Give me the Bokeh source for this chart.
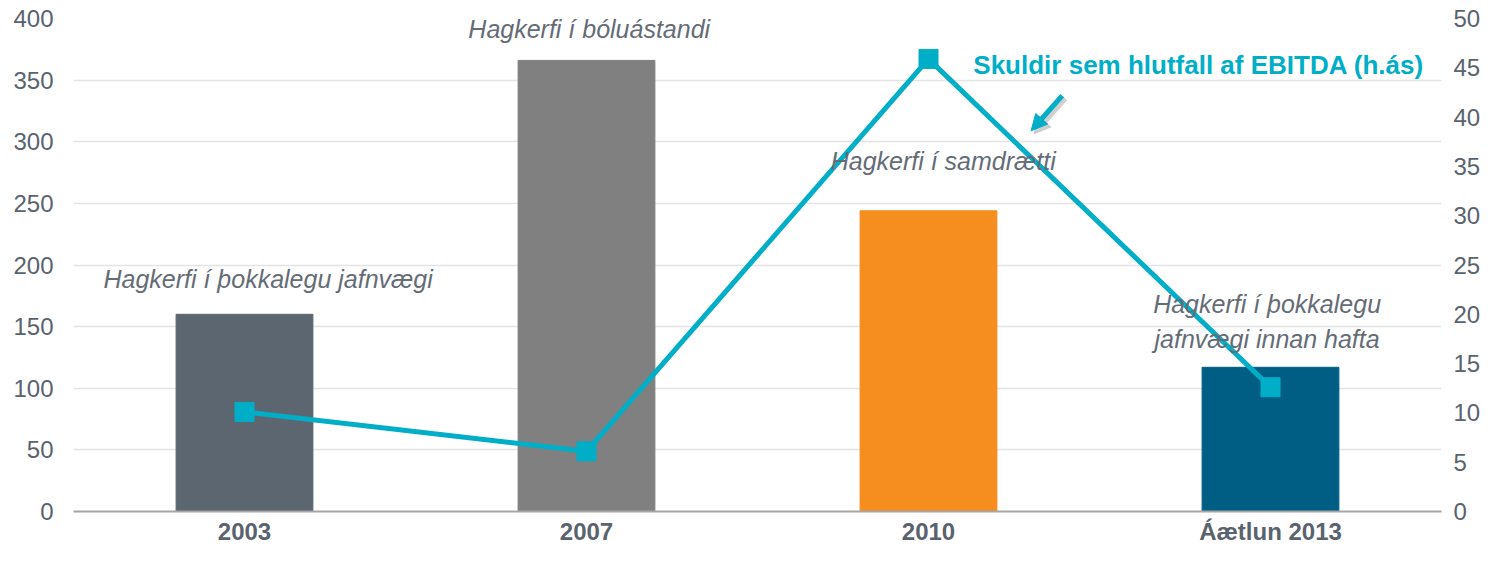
from bokeh.plotting import figure
from bokeh.models import Range1d, LinearAxis, ColumnDataSource, Arrow, NormalHead, FixedTicker
from bokeh.core.properties import value
from bokeh.embed import file_html
from bokeh.resources import INLINE

categories = ["2003", "2007", "2010", "Áætlun 2013"]
bar_values = [160, 366, 244, 117]
bar_colors = ["#5b6670", "#808080", "#f68d1f", "#005e84"]
ratio_values = [10.1, 6.1, 45.9, 12.6]

notes = ["Hagkerfi í þokkalegu jafnvægi", "Hagkerfi í bóluástandi",
         "Hagkerfi í samdrætti", "Hagkerfi í þokkalegu", "jafnvægi innan hafta"]
note_x = [0.569, 1.508, 2.543, 3.49, 3.49]
note_y = [188.3, 391.1, 284.4, 168.1, 139.8]

series_label = "Skuldir sem hlutfall af EBITDA (h.ás)"

FONT = "Liberation Sans"
TICK_COLOR = "#59636e"
TEAL = "#00aec7"

p = figure(x_range=categories, y_range=Range1d(0, 400), width=1483, height=547,
           output_backend="svg", toolbar_location=None,
           min_border_left=73, min_border_right=40, min_border_top=18, min_border_bottom=30)
p.extra_y_ranges = {"r": Range1d(0, 50)}
p.outline_line_color = None
p.background_fill_color = "white"
p.x_range.range_padding = 0

src = ColumnDataSource(dict(cat=categories, v=bar_values, c=bar_colors))
p.vbar(x="cat", top="v", width=0.4, color="c", source=src)

lsrc = ColumnDataSource(dict(cat=categories, v=ratio_values))
p.line(x="cat", y="v", line_color=TEAL, line_width=5, y_range_name="r", source=lsrc)
p.scatter(x="cat", y="v", marker="square", size=19, color=TEAL, y_range_name="r", source=lsrc)

# grid
p.xgrid.grid_line_color = None
p.ygrid.grid_line_color = "#e4e4e4"
p.ygrid.grid_line_width = 1.5
p.ygrid.ticker = FixedTicker(ticks=list(range(50, 401, 50)))

def style_axis(ax, standoff):
    ax.axis_line_color = None
    ax.major_tick_line_color = None
    ax.minor_tick_line_color = None
    ax.major_tick_out = 0
    ax.major_tick_in = 0
    ax.minor_tick_out = 0
    ax.minor_tick_in = 0
    ax.major_label_text_font = FONT
    ax.major_label_text_font_size = "24px"
    ax.major_label_text_color = TICK_COLOR
    ax.major_label_standoff = standoff

# left axis
ly = p.yaxis[0]
ly.ticker = FixedTicker(ticks=list(range(0, 401, 50)))
style_axis(ly, 20)

# right axis
ry = LinearAxis(y_range_name="r", ticker=FixedTicker(ticks=list(range(0, 51, 5))))
style_axis(ry, 12)
p.add_layout(ry, "right")

# x axis
xa = p.xaxis[0]
style_axis(xa, 6)
xa.axis_line_color = "#a6a6a6"
xa.axis_line_width = 2
xa.major_label_text_font_style = "bold"

# annotations
p.text(x=note_x, y=note_y, text=notes, text_font=value(FONT), text_font_size="25px",
       text_font_style="italic", text_color="#646c76", text_align="center",
       text_baseline="alphabetic")

p.text(x=[3.29], y=[362], text=[series_label], text_font=value(FONT), text_font_size="26px",
       text_font_style="bold", text_color=TEAL, text_align="center", text_baseline="alphabetic")

# arrow shadow + arrow
p.add_layout(Arrow(end=NormalHead(size=16, fill_color="#b0b0b0", line_color="#b0b0b0", fill_alpha=0.6, line_alpha=0.6),
                   x_start=2.900, y_start=335, x_end=2.809, y_end=306.5,
                   line_color="#b0b0b0", line_width=5, line_alpha=0.6))
p.add_layout(Arrow(end=NormalHead(size=16, fill_color=TEAL, line_color=TEAL),
                   x_start=2.891, y_start=337.4, x_end=2.800, y_end=308.9,
                   line_color=TEAL, line_width=5))

open("out.html", "w").write(file_html(p, INLINE))
